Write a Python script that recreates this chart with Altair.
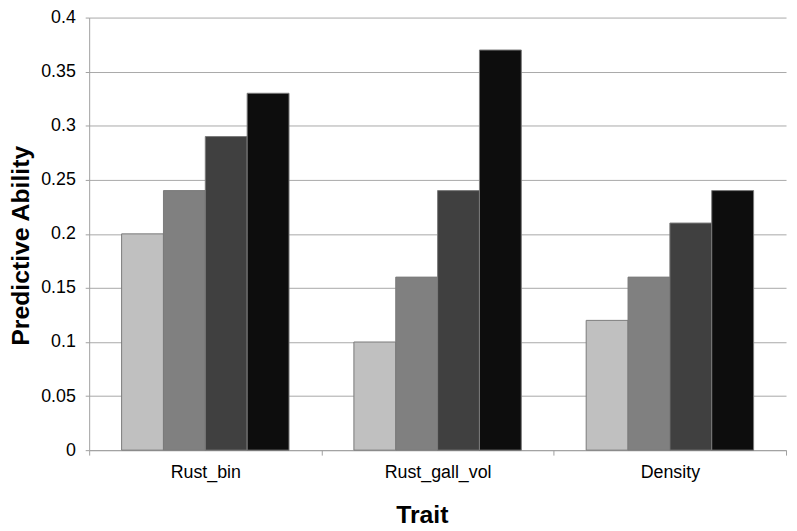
import altair as alt
import pandas as pd

traits = ["Rust_bin", "Rust_gall_vol", "Density"]
series = ["Set 1", "Set 2", "Set 3", "Set 4"]
set1 = [0.20, 0.10, 0.12]
set2 = [0.24, 0.16, 0.16]
set3 = [0.29, 0.24, 0.21]
set4 = [0.33, 0.37, 0.24]
colors = ["#c0c0c0", "#808080", "#404040", "#0d0d0d"]
y_ticks = [0, 0.05, 0.1, 0.15, 0.2, 0.25, 0.3, 0.35, 0.4]

rows = []
for s, vals in zip(series, [set1, set2, set3, set4]):
    for t, v in zip(traits, vals):
        rows.append({"Trait": t, "Series": s, "Value": v})
df = pd.DataFrame(rows)

FONT = "Liberation Sans"

chart = alt.Chart(df).mark_bar(stroke="#7a7a7a", strokeWidth=1).encode(
    x=alt.X("Trait:N", sort=traits,
            scale=alt.Scale(paddingInner=0, paddingOuter=0),
            axis=alt.Axis(title="Trait", labelAngle=0, labelFontSize=18, labelFont=FONT,
                          labelColor="black", labelPadding=9,
                          titleFontSize=25, titleFont=FONT, titleFontWeight="bold",
                          titleColor="black", titleX=336, titleY=65, titleBaseline="middle",
                          tickBand="extent",
                          tickSize=5, tickColor="#a0a0a0", domainColor="#a0a0a0",
                          grid=False)),
    xOffset=alt.XOffset("Series:N", sort=series,
                        scale=alt.Scale(paddingInner=0, paddingOuter=0.775)),
    y=alt.Y("Value:Q", scale=alt.Scale(domain=[0, 0.4], nice=False),
            axis=alt.Axis(title="Predictive Ability", values=y_ticks, format=".2~f",
                          labelFontSize=18, labelFont=FONT, labelColor="black",
                          labelPadding=10,
                          titleFontSize=25, titleFont=FONT, titleFontWeight="bold",
                          titleColor="black", titleX=-69, titleY=230,
                          titleBaseline="middle",
                          tickSize=4, tickColor="#a0a0a0", domainColor="#a0a0a0",
                          gridColor="#a8a8a8", gridWidth=1)),
    color=alt.Color("Series:N", sort=series,
                    scale=alt.Scale(domain=series, range=colors), legend=None),
).properties(
    width=704, height=437,
    autosize=alt.AutoSizeParams(type="none"),
    padding={"left": 82, "top": 7, "right": 3, "bottom": 79},
).configure_view(stroke=None)

chart.save("out.html", embed_options={"renderer": "svg", "actions": False})
